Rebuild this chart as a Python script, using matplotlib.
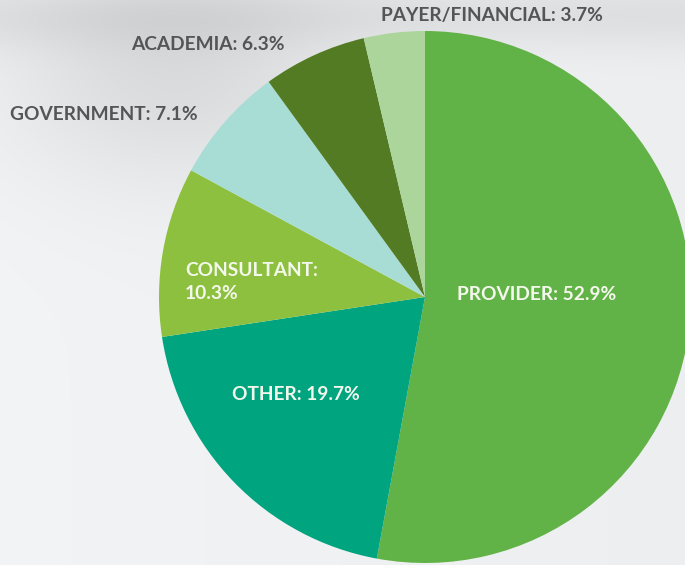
import matplotlib.pyplot as plt
import numpy as np

# Share of respondents by sector
sectors = ['PROVIDER', 'OTHER', 'CONSULTANT', 'GOVERNMENT', 'ACADEMIA', 'PAYER/FINANCIAL']
shares = [52.9, 19.7, 10.3, 7.1, 6.3, 3.7]
colors = ['#62b347', '#00a47f', '#8dc03f', '#a8ddd5', '#537b23', '#acd59b']

W, H = 685, 565
fig = plt.figure(figsize=(W / 100, H / 100), dpi=100)
ax = fig.add_axes([0, 0, 1, 1])

# soft photo-like backdrop (row 0 = top of the picture)
yy, xx = np.mgrid[0:H, 0:W]
bg = 0.95 - 0.02 * (xx / W)
bg -= 0.09 * np.exp(-((xx - 170) ** 2 / (2 * 120 ** 2) + (yy - 70) ** 2 / (2 * 80 ** 2)))
bg -= 0.06 * np.exp(-((yy - 15) ** 2) / (2 * 25 ** 2))
bg = np.clip(bg, 0, 1)
ax.imshow(np.dstack([bg, bg + 0.005, bg + 0.012]).clip(0, 1),
          extent=[0, W, 0, H], origin='upper', aspect='auto', zorder=0)

ax.pie(shares, colors=colors, startangle=90, counterclock=False,
       center=(425, H - 297), radius=266, frame=True,
       wedgeprops=dict(linewidth=0))
ax.set_xlim(0, W)
ax.set_ylim(0, H)
ax.set_aspect('auto')
ax.axis('off')

font = dict(family=['Lato', 'DejaVu Sans'], fontweight='bold', fontsize=13.8)
dark = '#555555'
light = '#f4f8ec'

ax.text(381, H - 16, '{}: {}%'.format(sectors[5], shares[5]), color=dark,
        ha='left', va='center', **font)
ax.text(131, H - 45, '{}: {}%'.format(sectors[4], shares[4]), color=dark,
        ha='left', va='center', **font)
ax.text(10, H - 114, '{}: {}%'.format(sectors[3], shares[3]), color=dark,
        ha='left', va='center', **font)
ax.text(185, H - 282, '{}:\n{}%'.format(sectors[2], shares[2]), color=light,
        ha='left', va='center', linespacing=1.4, **font)
ax.text(457, H - 295, '{}: {}%'.format(sectors[0], shares[0]), color=light,
        ha='left', va='center', **font)
ax.text(232, H - 394, '{}: {}%'.format(sectors[1], shares[1]), color=light,
        ha='left', va='center', **font)

fig.savefig('out.png', dpi=100)
